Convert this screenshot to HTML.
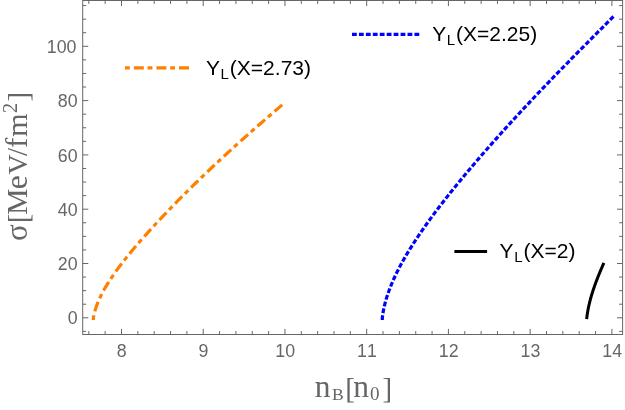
<!DOCTYPE html>
<html><head><meta charset="utf-8"><title>chart</title>
<style>html,body{margin:0;padding:0;background:#fff;}body{width:625px;height:410px;position:relative;overflow:hidden;font-family:"Liberation Sans",sans-serif;}</style>
</head><body>
<svg width="625" height="410" viewBox="0 0 625 410" style="position:absolute;left:0;top:0;will-change:transform">
<rect x="0" y="0" width="625" height="410" fill="#fff"/>
<path d="M88.81,334.5 v-3.4 M88.81,0.5 v3.4 M105.15,334.5 v-3.4 M105.15,0.5 v3.4 M121.50,334.5 v-5.6 M121.50,0.5 v5.6 M137.85,334.5 v-3.4 M137.85,0.5 v3.4 M154.19,334.5 v-3.4 M154.19,0.5 v3.4 M170.54,334.5 v-3.4 M170.54,0.5 v3.4 M186.88,334.5 v-3.4 M186.88,0.5 v3.4 M203.23,334.5 v-5.6 M203.23,0.5 v5.6 M219.58,334.5 v-3.4 M219.58,0.5 v3.4 M235.92,334.5 v-3.4 M235.92,0.5 v3.4 M252.27,334.5 v-3.4 M252.27,0.5 v3.4 M268.61,334.5 v-3.4 M268.61,0.5 v3.4 M284.96,334.5 v-5.6 M284.96,0.5 v5.6 M301.31,334.5 v-3.4 M301.31,0.5 v3.4 M317.65,334.5 v-3.4 M317.65,0.5 v3.4 M334.00,334.5 v-3.4 M334.00,0.5 v3.4 M350.34,334.5 v-3.4 M350.34,0.5 v3.4 M366.69,334.5 v-5.6 M366.69,0.5 v5.6 M383.04,334.5 v-3.4 M383.04,0.5 v3.4 M399.38,334.5 v-3.4 M399.38,0.5 v3.4 M415.73,334.5 v-3.4 M415.73,0.5 v3.4 M432.07,334.5 v-3.4 M432.07,0.5 v3.4 M448.42,334.5 v-5.6 M448.42,0.5 v5.6 M464.77,334.5 v-3.4 M464.77,0.5 v3.4 M481.11,334.5 v-3.4 M481.11,0.5 v3.4 M497.46,334.5 v-3.4 M497.46,0.5 v3.4 M513.80,334.5 v-3.4 M513.80,0.5 v3.4 M530.15,334.5 v-5.6 M530.15,0.5 v5.6 M546.50,334.5 v-3.4 M546.50,0.5 v3.4 M562.84,334.5 v-3.4 M562.84,0.5 v3.4 M579.19,334.5 v-3.4 M579.19,0.5 v3.4 M595.53,334.5 v-3.4 M595.53,0.5 v3.4 M611.88,334.5 v-5.6 M611.88,0.5 v5.6 M82.7,331.38 h3.4 M622.6,331.38 h-3.4 M82.7,317.80 h5.6 M622.6,317.80 h-5.6 M82.7,304.23 h3.4 M622.6,304.23 h-3.4 M82.7,290.65 h3.4 M622.6,290.65 h-3.4 M82.7,277.08 h3.4 M622.6,277.08 h-3.4 M82.7,263.50 h5.6 M622.6,263.50 h-5.6 M82.7,249.93 h3.4 M622.6,249.93 h-3.4 M82.7,236.35 h3.4 M622.6,236.35 h-3.4 M82.7,222.78 h3.4 M622.6,222.78 h-3.4 M82.7,209.20 h5.6 M622.6,209.20 h-5.6 M82.7,195.62 h3.4 M622.6,195.62 h-3.4 M82.7,182.05 h3.4 M622.6,182.05 h-3.4 M82.7,168.48 h3.4 M622.6,168.48 h-3.4 M82.7,154.90 h5.6 M622.6,154.90 h-5.6 M82.7,141.33 h3.4 M622.6,141.33 h-3.4 M82.7,127.75 h3.4 M622.6,127.75 h-3.4 M82.7,114.18 h3.4 M622.6,114.18 h-3.4 M82.7,100.60 h5.6 M622.6,100.60 h-5.6 M82.7,87.03 h3.4 M622.6,87.03 h-3.4 M82.7,73.45 h3.4 M622.6,73.45 h-3.4 M82.7,59.88 h3.4 M622.6,59.88 h-3.4 M82.7,46.30 h5.6 M622.6,46.30 h-5.6 M82.7,32.73 h3.4 M622.6,32.73 h-3.4 M82.7,19.15 h3.4 M622.6,19.15 h-3.4 M82.7,5.58 h3.4 M622.6,5.58 h-3.4" stroke="#666666" stroke-width="1" fill="none"/>
<rect x="82.7" y="0.5" width="539.9" height="334.0" fill="none" stroke="#666666" stroke-width="1"/>
<path d="M93.40,320.00 L93.40,317.80 L93.91,315.10 L94.55,312.40 L95.30,309.70 L96.18,306.99 L97.16,304.29 L98.24,301.59 L99.42,298.89 L100.69,296.19 L102.05,293.49 L103.49,290.79 L105.01,288.09 L106.61,285.38 L108.27,282.68 L110.00,279.98 L111.79,277.28 L113.63,274.58 L115.54,271.88 L117.49,269.18 L119.49,266.48 L121.54,263.77 L123.63,261.07 L125.77,258.37 L127.94,255.67 L130.15,252.97 L132.39,250.27 L134.66,247.57 L136.96,244.87 L139.30,242.16 L141.66,239.46 L144.05,236.76 L146.46,234.06 L148.89,231.36 L151.35,228.66 L153.83,225.96 L156.33,223.26 L158.85,220.55 L161.39,217.85 L163.95,215.15 L166.53,212.45 L169.12,209.75 L171.73,207.05 L174.36,204.35 L177.01,201.65 L179.67,198.94 L182.35,196.24 L185.05,193.54 L187.76,190.84 L190.49,188.14 L193.24,185.44 L196.00,182.74 L198.78,180.04 L201.57,177.33 L204.38,174.63 L207.21,171.93 L210.05,169.23 L212.91,166.53 L215.79,163.83 L218.68,161.13 L221.59,158.43 L224.52,155.72 L227.46,153.02 L230.42,150.32 L233.39,147.62 L236.38,144.92 L239.39,142.22 L242.41,139.52 L245.44,136.82 L248.49,134.11 L251.55,131.41 L254.62,128.71 L257.71,126.01 L260.80,123.31 L263.91,120.61 L267.03,117.91 L270.15,115.21 L273.28,112.50 L276.42,109.80 L279.56,107.10 L282.70,104.40 L282.93,104.20" fill="none" stroke="#ff8000" stroke-width="3.2" stroke-dasharray="4.8 4 10 3.8"/>
<path d="M382.30,320.00 L382.30,317.80 L382.81,314.00 L383.47,310.19 L384.27,306.39 L385.22,302.59 L386.29,298.79 L387.49,294.98 L388.80,291.18 L390.24,287.38 L391.78,283.58 L393.42,279.77 L395.16,275.97 L397.00,272.17 L398.92,268.37 L400.93,264.56 L403.02,260.76 L405.18,256.96 L407.42,253.16 L409.73,249.35 L412.10,245.55 L414.54,241.75 L417.03,237.95 L419.59,234.14 L422.19,230.34 L424.85,226.54 L427.55,222.74 L430.30,218.93 L433.10,215.13 L435.93,211.33 L438.81,207.53 L441.73,203.72 L444.68,199.92 L447.66,196.12 L450.68,192.32 L453.74,188.51 L456.82,184.71 L459.93,180.91 L463.07,177.11 L466.24,173.30 L469.43,169.50 L472.65,165.70 L475.90,161.90 L479.17,158.09 L482.46,154.29 L485.77,150.49 L489.11,146.69 L492.47,142.88 L495.85,139.08 L499.25,135.28 L502.67,131.48 L506.11,127.67 L509.57,123.87 L513.05,120.07 L516.55,116.27 L520.06,112.46 L523.60,108.66 L527.15,104.86 L530.72,101.06 L534.31,97.25 L537.91,93.45 L541.53,89.65 L545.17,85.85 L548.82,82.04 L552.49,78.24 L556.17,74.44 L559.86,70.64 L563.57,66.83 L567.29,63.03 L571.02,59.23 L574.77,55.43 L578.52,51.62 L582.28,47.82 L586.05,44.02 L589.83,40.22 L593.61,36.41 L597.40,32.61 L601.19,28.81 L604.98,25.01 L608.77,21.20 L612.56,17.40 L613.69,16.27" fill="none" stroke="#0000ff" stroke-width="3.2" stroke-dasharray="4.8 2.14"/>
<path d="M586.64,319.19 L586.80,317.80 L586.88,317.11 L586.97,316.42 L587.06,315.73 L587.15,315.04 L587.25,314.34 L587.36,313.65 L587.46,312.96 L587.58,312.27 L587.69,311.58 L587.81,310.89 L587.94,310.20 L588.07,309.51 L588.20,308.82 L588.34,308.12 L588.48,307.43 L588.62,306.74 L588.77,306.05 L588.92,305.36 L589.08,304.67 L589.24,303.98 L589.41,303.29 L589.57,302.59 L589.74,301.90 L589.92,301.21 L590.10,300.52 L590.28,299.83 L590.46,299.14 L590.65,298.45 L590.84,297.76 L591.04,297.07 L591.24,296.37 L591.44,295.68 L591.64,294.99 L591.85,294.30 L592.06,293.61 L592.28,292.92 L592.49,292.23 L592.71,291.54 L592.94,290.85 L593.16,290.15 L593.39,289.46 L593.62,288.77 L593.86,288.08 L594.10,287.39 L594.34,286.70 L594.58,286.01 L594.82,285.32 L595.07,284.63 L595.32,283.93 L595.57,283.24 L595.83,282.55 L596.08,281.86 L596.34,281.17 L596.60,280.48 L596.87,279.79 L597.13,279.10 L597.40,278.41 L597.67,277.71 L597.94,277.02 L598.22,276.33 L598.49,275.64 L598.77,274.95 L599.05,274.26 L599.33,273.57 L599.62,272.88 L599.90,272.18 L600.19,271.49 L600.48,270.80 L600.77,270.11 L601.06,269.42 L601.35,268.73 L601.65,268.04 L601.95,267.35 L602.24,266.66 L602.54,265.96 L602.84,265.27 L603.14,264.58 L603.45,263.89 L603.75,263.20 L603.87,262.93" fill="none" stroke="#000" stroke-width="3" stroke-linecap="butt"/>
<path d="M125,67.8 H189" fill="none" stroke="#ff8000" stroke-width="3.2" stroke-dasharray="4.8 4 10 3.8"/>
<path d="M352,34.3 H419.3" fill="none" stroke="#0000ff" stroke-width="3.2" stroke-dasharray="4.8 2.14"/>
<path d="M454.4,251.5 H487.1" fill="none" stroke="#000" stroke-width="3"/>
<g font-family="Liberation Sans, sans-serif" font-size="17.8" fill="#666666">
<text x="116.85" y="357.00">8</text>
<text x="198.58" y="357.00">9</text>
<text x="275.36" y="357.00">1</text><text x="285.26" y="357.00">0</text>
<text x="357.09" y="357.00">1</text><text x="366.99" y="357.00">1</text>
<text x="438.82" y="357.00">1</text><text x="448.72" y="357.00">2</text>
<text x="520.55" y="357.00">1</text><text x="530.45" y="357.00">3</text>
<text x="602.28" y="357.00">1</text><text x="612.18" y="357.00">4</text>
<text x="67.70" y="324.40">0</text>
<text x="57.80" y="270.10">2</text><text x="67.70" y="270.10">0</text>
<text x="57.80" y="215.80">4</text><text x="67.70" y="215.80">0</text>
<text x="57.80" y="161.50">6</text><text x="67.70" y="161.50">0</text>
<text x="57.80" y="107.20">8</text><text x="67.70" y="107.20">0</text>
<text x="46.80" y="52.90">1</text><text x="56.70" y="52.90">0</text><text x="66.60" y="52.90">0</text>
</g>
<text x="206.0" y="75" font-family="Liberation Sans, sans-serif" font-size="21" fill="#000">Y<tspan font-size="15" dy="3.5" dx="0.6">L</tspan><tspan dy="-3.5" dx="0.9">(X=2.73)</tspan></text>
<text x="432.2" y="41" font-family="Liberation Sans, sans-serif" font-size="21" fill="#000">Y<tspan font-size="15" dy="3.5" dx="0.6">L</tspan><tspan dy="-3.5" dx="0.9">(X=2.25)</tspan></text>
<text x="499.6" y="258.3" font-family="Liberation Sans, sans-serif" font-size="21" fill="#000">Y<tspan font-size="15" dy="3.5" dx="0.6">L</tspan><tspan dy="-3.5" dx="0.9">(X=2)</tspan></text>
<g fill="#666666" font-family="Liberation Serif, serif" aria-label="nB[n0]">
<text x="314.76" y="396.5" font-size="31.5">n</text>
<text x="331.88" y="400.2" font-size="17.5">B</text>
<text x="345.2" y="398.4" font-size="29">[</text>
<text x="353.16" y="396.5" font-size="31.5">n</text>
<text x="370.03" y="400.45" font-size="19">0</text>
<text x="382.54" y="398.4" font-size="29">]</text>
</g>
<g transform="translate(26.6,0) rotate(-90)" fill="#666666" font-family="Liberation Serif, serif" aria-label="σ[MeV/fm2]">
<text x="-240.92" y="0" font-size="31">σ</text>
<text x="-223.37" y="1.3" font-size="29">[</text>
<text x="-214.64" y="0" font-size="29.5">M</text>
<text x="-189.14" y="0" font-size="31.5">e</text>
<text x="-174.39" y="0" font-size="28">V</text>
<text x="-156.10" y="0" font-size="29">/</text>
<text x="-147.94" y="0" font-size="31">f</text>
<text x="-136.81" y="0" font-size="30">m</text>
<text x="-113.32" y="-9.6" font-size="21">2</text>
<text x="-101.62" y="1.3" font-size="29">]</text>
</g>
</svg>
</body></html>
